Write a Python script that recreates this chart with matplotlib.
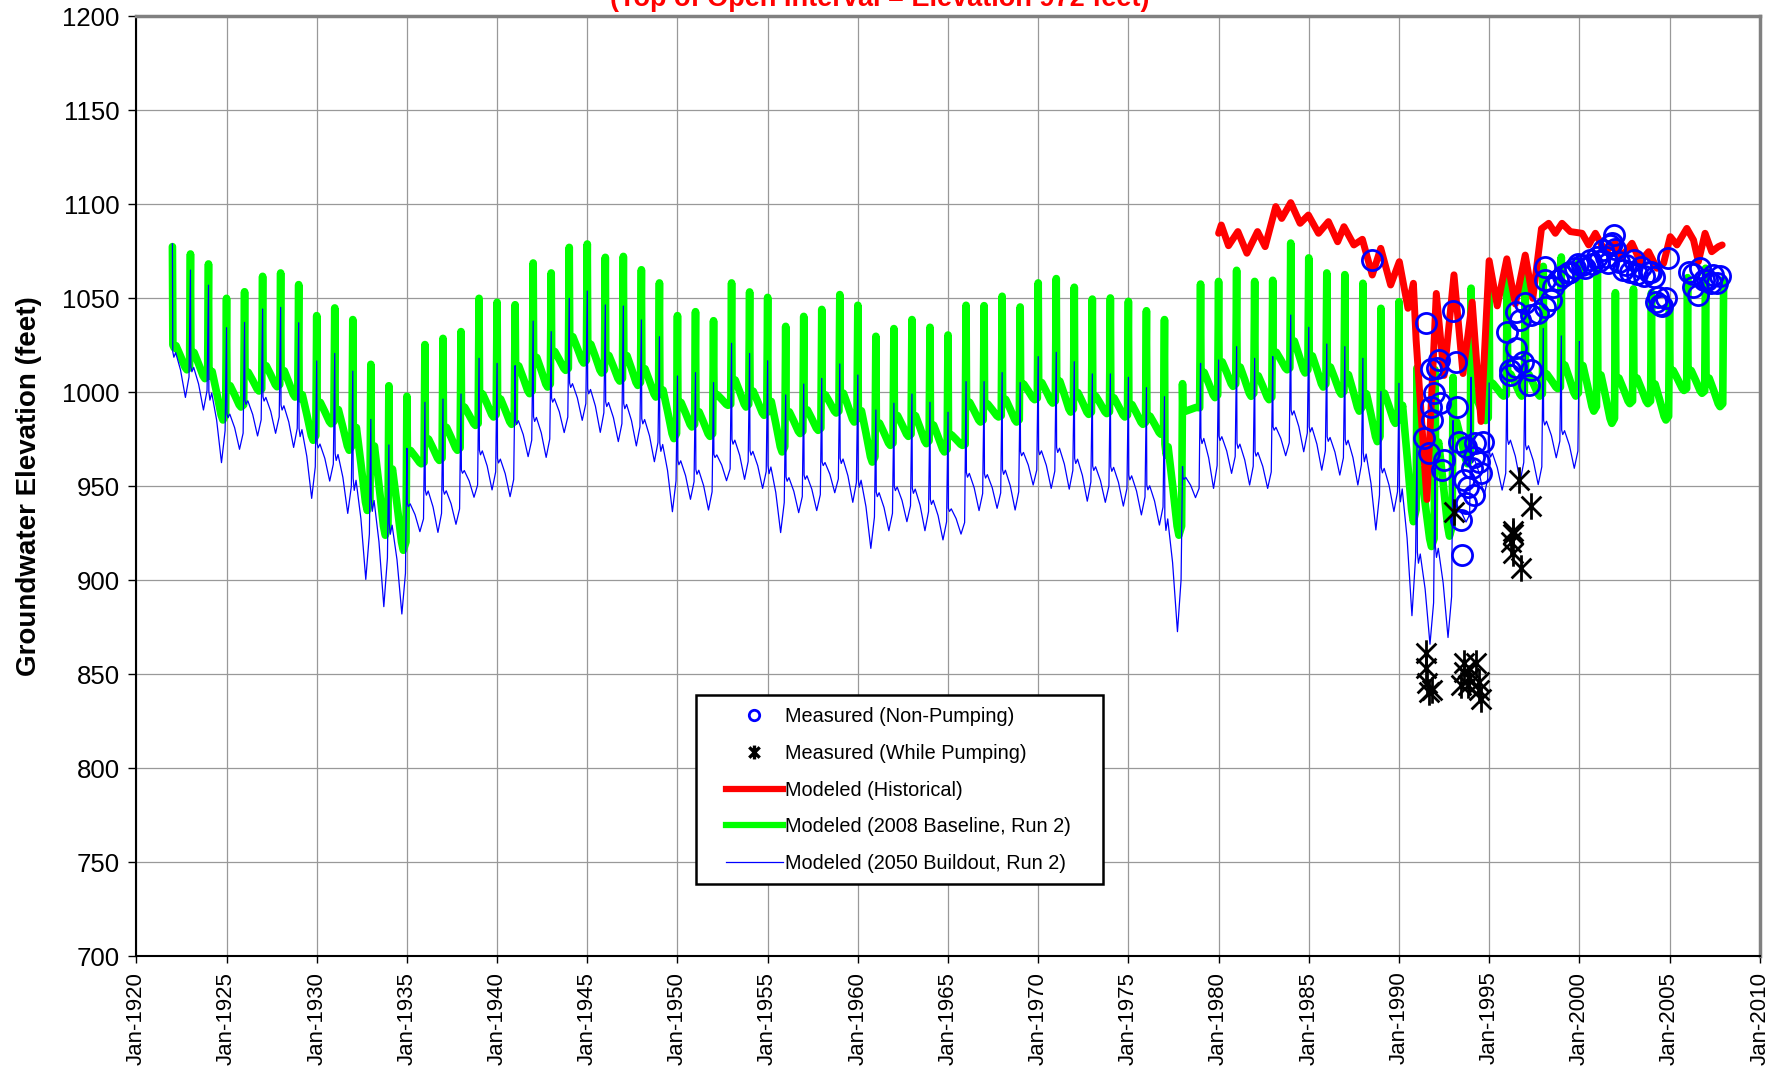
import matplotlib
matplotlib.use("Agg")
import matplotlib.pyplot as plt
from matplotlib.lines import Line2D
from matplotlib.patches import Rectangle
from matplotlib.path import Path

plt.rcParams['font.family'] = ['Liberation Sans', 'DejaVu Sans']

# ---- data ----
title = "(Top of Open Interval = Elevation 972 feet)"
legend_labels = ["Measured (Non-Pumping)", "Measured (While Pumping)",
                 "Modeled (Historical)", "Modeled (2008 Baseline, Run 2)",
                 "Modeled (2050 Buildout, Run 2)"]
xtick_years = list(range(1920, 2011, 5))
xtick_labels = ["Jan-%d" % y for y in xtick_years]
yticks = list(range(700, 1201, 50))

# 2008 baseline: one winter spike per year, level just after spike, seasonal low
green_years = list(range(1922, 2008))
green_peak = [1077.5, 1073.6, 1068.3, 1050, 1053.5, 1061.7, 1063.5, 1057.3, 1040.8, 1044.9,
              1038.7, 1014.9, 1003.5, 997.9, 1025.4, 1028.7, 1032.3, 1050, 1047.9, 1046.6,
              1068.8, 1063.5, 1077.1, 1078.9, 1071.8, 1072.3, 1065.2, 1058.2, 1040.8, 1042.9,
              1038.1, 1058.2, 1053.4, 1050.5, 1035.1, 1040.4, 1044.1, 1052, 1046.3, 1029.8,
              1033.9, 1038.7, 1034.6, 1030.5, 1046.3, 1046.1, 1051.1, 1045.4, 1058.2, 1060.5,
              1055.9, 1049.6, 1050.2, 1048.4, 1043.4, 1038.7, 1004.6, 1057.6, 1059, 1064.9,
              1059, 1059.6, 1079.4, 1071.5, 1063.5, 1062.6, 1058, 1044.7, 1048.2, 1013,
              1012, 1008, 1055.4, 1052.7, 1063, 1063, 1067, 1072, 1070, 1065,
              1053, 1055, 1053, 1046, 1061, 1066]
green_post = [1025.2, 1021.6, 1011.9, 1003.9, 1011, 1014.5, 1011.9, 999.5, 995, 991.5,
              982.6, 972.9, 960.5, 969.3, 975.5, 981.7, 992.4, 999.5, 996.8, 1014.5,
              1019, 1022, 1030, 1026, 1020, 1020, 1013, 1002, 995, 990,
              999, 1007, 1001, 996, 990, 991, 999, 1000, 991, 984,
              988, 988, 983, 977.5, 995, 994, 996.6, 1004.6, 1005.5, 1006.4,
              1000.2, 998.2, 997.4, 993.8, 987.6, 972.5, 990, 1011, 1016.6, 1013.9,
              1009.2, 1021.6, 1027.8, 1019.9, 1013.9, 1010, 1000, 1000, 995, 960,
              975, 985, 1000, 1005, 1010, 1010, 1010, 1015, 1015, 1010,
              1008, 1008, 1005, 1012, 1012, 1008]
green_low = [1012, 1007.3, 985.3, 992.2, 1000.7, 1003, 997.5, 974.5, 983.3, 969.2,
             937.2, 924, 916, 962, 963.8, 969.2, 982.4, 986.9, 983, 999.3,
             1002.8, 1011.7, 1015.6, 1010.3, 1006, 1003.7, 997.5, 975.4, 981.6, 976.6,
             993.1, 992.2, 987.8, 968.3, 978.1, 979.8, 989, 984.2, 962.9, 971.8,
             976.6, 972.7, 968.3, 971.8, 984.2, 986.9, 984.2, 996.1, 994.3, 989.5,
             988.3, 988.7, 986.9, 983, 977.7, 924, 992, 997.2, 1003.2, 997.9,
             996.1, 1012, 1010.3, 1002.8, 999, 990, 973.8, 983.5, 931.2, 918,
             923.5, 962, 985, 998, 998, 998, 1002, 998, 990, 983.5,
             994, 994, 985.3, 1001, 999.5, 992.4]
green_end = (2008.0, 1060)

# 2050 buildout (ends Jan-2000)
blue_years = list(range(1922, 2000))
blue_peak = [1079, 1065, 1057, 1034.4, 1037.2, 1044.3, 1045.2, 1037, 1016.7, 1020.7,
             1011.3, 985.6, 972, 970.2, 994.7, 996.4, 999.1, 1018.1, 1015.4, 1014.2,
             1037.9, 1032.3, 1050, 1053.9, 1046.5, 1045.9, 1038.5, 1029.6, 1008.7, 1010.5,
             1005.2, 1026.1, 1020.7, 1016.8, 998.6, 1004.4, 1007.4, 1015.1, 1009.2, 990.6,
             994.2, 999.1, 994.7, 989.4, 1005.7, 1005.7, 1010.5, 1005.2, 1019, 1021.3,
             1016.3, 1009.8, 1009.8, 1008, 1002.5, 997.7, 960.5, 1015.4, 1017.2, 1024.3,
             1018.1, 1019, 1041.1, 1034.6, 1025.7, 1024.3, 1018.1, 1000.4, 1004.8, 972.9,
             960, 985, 1008, 1005, 1021, 1020, 1034, 1030]
blue_post = [1021.6, 1013.7, 1000.4, 988.8, 995.9, 997.7, 993.3, 980.9, 972.9, 967.6,
             954.3, 943.6, 930.3, 941, 948, 948, 958.7, 969.3, 964.9, 985.3,
             987.1, 997, 1005, 1002, 995, 994, 986, 973, 964, 959,
             967, 975, 969, 961, 955, 956, 963, 965, 954, 947,
             950, 949, 943, 938.3, 957.3, 956.6, 959, 968.4, 969.3, 970.7,
             964.9, 960.8, 960.5, 956, 950.7, 933.9, 955, 976, 976.8, 972.9,
             968.4, 981.7, 990.6, 981.7, 976.4, 975, 968, 960, 950, 915,
             918, 940, 965, 968, 975, 972, 985, 980]
blue_low = [997.3, 990.6, 962.6, 969.7, 976.8, 978.2, 970.7, 943.6, 952.8, 935.6,
            900.5, 886, 882.1, 925.9, 925.5, 929.8, 944.2, 948.1, 944.5, 965.8,
            965.4, 978.6, 985.1, 978.7, 973.8, 971.5, 963.1, 936.5, 943.1, 937.4,
            953, 953.7, 948.9, 925.4, 936, 937.1, 946.6, 941.5, 917, 926.4,
            931.2, 926.4, 921.5, 924.6, 937.1, 938.3, 937.4, 950.7, 948.9, 948.5,
            942.1, 941.5, 939.5, 934.8, 929.4, 872.7, 944, 948.9, 956.9, 950.7,
            948.9, 966.3, 968.4, 958.6, 956, 950.7, 926.8, 936.6, 881.2, 866,
            869.6, 931, 945, 948, 952.7, 950.9, 965.2, 959.6]
blue_end = (2000.0, 1027)

# modeled historical
red_t = [1980.0, 1980.15, 1980.55, 1981.07, 1981.57, 1982.16, 1982.58, 1983.17, 1983.5, 1984.0,
         1984.52, 1984.98, 1985.54, 1986.09, 1986.6, 1986.95, 1987.5, 1987.97, 1988.52, 1988.99,
         1989.54, 1990.02, 1990.5, 1990.8, 1990.95, 1991.55, 1992.07, 1992.5, 1993.05, 1993.55,
         1994.06, 1994.55, 1995.0, 1995.45, 1995.98, 1996.45, 1997.0, 1997.42, 1997.9, 1998.3,
         1998.67, 1999.04, 1999.5, 2000.15, 2000.52, 2000.89, 2001.44, 2001.99, 2002.36, 2002.92,
         2003.38, 2003.84, 2004.3, 2004.67, 2005.04, 2005.41, 2005.96, 2006.33, 2006.6, 2006.97,
         2007.34, 2007.71, 2007.92]
red_v = [1084.6, 1089, 1078, 1085.5, 1074, 1085.5, 1077.5, 1098.8, 1092.5, 1100.9,
         1089.9, 1094.3, 1084.6, 1090.8, 1080.1, 1088.1, 1078.4, 1081.4, 1062.4, 1076.6,
         1057.1, 1069.5, 1044.7, 1058, 1028, 943, 1052.6, 1009, 1062.5, 1010,
         1048, 984.5, 1070, 1046, 1071, 1047, 1073, 1050, 1087, 1089.9,
         1084.6, 1089.9, 1085.5, 1084.6, 1078.4, 1084.6, 1074.8, 1079.3, 1072.2, 1079.3,
         1069.5, 1074.8, 1066, 1068.6, 1082.8, 1078.4, 1087.2, 1081, 1069.5, 1084.6,
         1074.8, 1077.5, 1078.4]

# measured, non-pumping
circ_t = [1988.49, 1991.49, 1992.98, 1991.76, 1992.1, 1992.2, 1993.16, 1991.96, 1991.8, 1992.3,
          1993.22, 1991.84, 1991.39, 1991.69, 1992.51, 1992.41, 1993.33, 1993.73, 1994.24, 1994.65,
          1994.14, 1994.04, 1994.55, 1993.63, 1993.84, 1994.14, 1993.73, 1993.43, 1993.47, 1994.45,
          1995.98, 1996.49, 1997.0, 1996.69, 1997.31, 1997.71, 1998.12, 1998.43, 1996.18, 1996.49,
          1996.9, 1997.31, 1997.2, 1996.49, 1996.18, 1998.12, 1998.12, 1998.53, 1998.84, 1999.35,
          1999.76, 2000.16, 2000.57, 2000.98, 2001.29, 2001.69, 2001.9, 2001.8, 2001.59, 2002.2,
          2002.61, 2003.02, 2003.43, 2003.84, 2004.14, 2004.35, 2004.45, 2004.24, 2004.9, 2006.08,
          2006.29, 2006.59, 2006.69, 2007.1, 2007.41, 2007.61, 1999.1, 1999.5, 1999.9, 2000.3,
          2000.7, 2001.1, 2001.5, 2002.0, 2002.4, 2002.8, 2003.2, 2003.6, 2004.0, 2004.6,
          2004.8, 2006.3, 2006.9, 2007.3, 2007.8]
circ_v = [1070.4, 1037.1, 1043.3, 1012.2, 1012.8, 1017.2, 1016.3, 999.8, 992.4, 994.2,
          992.4, 985.3, 975.5, 967.6, 964, 958.7, 973.8, 971.1, 972.9, 973.8,
          965.8, 959.6, 956.9, 953.4, 949.8, 945.4, 941, 932.1, 913.5, 963.1,
          1032.3, 1042.9, 1047.3, 1038.5, 1041.2, 1042, 1045.6, 1049.1, 1011.9, 1013.7,
          1016.3, 1011.9, 1003.9, 1023.4, 1009.2, 1066.8, 1059.8, 1056.2, 1059.8, 1063.3,
          1066, 1067.7, 1070.4, 1072.2, 1075.7, 1078.4, 1083.7, 1079.3, 1068.6, 1069.5,
          1067.7, 1070.4, 1066.8, 1064.2, 1061.5, 1050.9, 1046.5, 1048.2, 1071.3, 1064.2,
          1056.2, 1051.8, 1066, 1059.8, 1062.4, 1058, 1062, 1064, 1068, 1066,
          1068, 1070, 1072, 1076, 1065, 1064, 1063, 1062, 1064, 1046,
          1050, 1063, 1060, 1058, 1062]

# measured, while pumping
star_t = [1991.48, 1991.48, 1991.57, 1991.67, 1991.85, 1993.61, 1993.61, 1994.26, 1993.8, 1993.89,
          1994.44, 1994.44, 1994.54, 1993.43, 1993.06, 1996.63, 1997.31, 1996.3, 1996.2, 1996.3,
          1996.76, 1996.35]
star_v = [861.3, 853.2, 845.2, 840.7, 841.6, 855.9, 851.4, 855.9, 844.3, 847.9,
          846.1, 841.6, 837.1, 844.3, 936.3, 953.2, 939.3, 924.6, 920.2, 914.8,
          906.8, 926.4]

# within-year shape (fraction of the year, share of post-to-low drop remaining)
G_PHASE = [0.025, 0.10, 0.20, 0.45, 0.70, 0.80, 0.95]
G_SHARE = [1.0, 0.88, 0.97, 0.55, 0.10, 0.0, 0.10]
B_PHASE = [0.02, 0.08, 0.18, 0.45, 0.72, 0.92]
B_SHARE = [1.0, 0.88, 0.98, 0.60, 0.0, 0.45]


def build_series(years, peak, post, low, end, phase, share):
    t, v = [], []
    for y, pk, ps, lo in zip(years, peak, post, low):
        t.append(y)
        v.append(pk)
        for ph, sh in zip(phase, share):
            t.append(y + ph)
            v.append(lo + sh * (ps - lo))
    t.append(end[0])
    v.append(end[1])
    return t, v


gt, gv = build_series(green_years, green_peak, green_post, green_low, green_end, G_PHASE, G_SHARE)
bt, bv = build_series(blue_years, blue_peak, blue_post, blue_low, blue_end, B_PHASE, B_SHARE)

fig = plt.figure(figsize=(17.8, 10.67), dpi=100)
ax = fig.add_axes([0.0766, 0.1037, 0.912, 0.881])

ax.plot(gt, gv, color='#00FF00', lw=5.5, solid_joinstyle='round', solid_capstyle='round', zorder=2)
ax.plot(bt, bv, color='#0000FF', lw=0.9, zorder=3)
ax.plot(red_t, red_v, color='#FF0000', lw=5.0, solid_joinstyle='round', solid_capstyle='round', zorder=3.5)
ax.plot(circ_t, circ_v, ls='none', marker='o', ms=14.5, mfc='none', mec='#0000FF', mew=2.0, zorder=4)

star_path = Path([(0, -1), (0, 1), (-0.75, -0.75), (0.75, 0.75), (-0.75, 0.75), (0.75, -0.75)],
                 [Path.MOVETO, Path.LINETO, Path.MOVETO, Path.LINETO, Path.MOVETO, Path.LINETO])
ax.plot(star_t, star_v, ls='none', marker=star_path, ms=19, mfc='none', mec='black', mew=2.0, zorder=4.2)

ax.set_xlim(1920, 2010)
ax.set_ylim(700, 1200)
ax.set_xticks(xtick_years)
ax.set_xticklabels(xtick_labels, rotation=90, fontsize=16)
ax.set_yticks(yticks)
ax.set_yticklabels([str(y) for y in yticks], fontsize=18.5)
ax.tick_params(axis='x', length=5, width=1, pad=6, direction='out')
ax.tick_params(axis='y', length=6, width=1, pad=6, direction='out')
ax.grid(True, color='#999999', lw=0.9, zorder=0)
ax.set_axisbelow(True)

for side in ('left', 'bottom'):
    ax.spines[side].set_color('black')
    ax.spines[side].set_linewidth(1.5)
for side in ('top', 'right'):
    ax.spines[side].set_color('#808080')
    ax.spines[side].set_linewidth(2.5)

ax.set_ylabel("Groundwater Elevation (feet)", fontsize=20, fontweight='bold')
ax.yaxis.set_label_coords(-0.058, 0.5)

fig.text(0.494, 1 - 6 / 1067, title, color='#FF0000', fontsize=19.5, fontweight='bold',
         ha='center', va='baseline')

# legend: white box drawn separately, entries on top
ax.add_patch(Rectangle((0.3447, 0.0769), 0.2507, 0.2011, transform=ax.transAxes,
                       facecolor='white', edgecolor='black', lw=1.8, zorder=6))
handles = [
    Line2D([], [], ls='none', marker='o', ms=7.5, mfc='none', mec='#0000FF', mew=2.0),
    Line2D([], [], ls='none', marker=star_path, ms=10, mfc='none', mec='black', mew=2.4),
    Line2D([], [], color='#FF0000', lw=4.5),
    Line2D([], [], color='#00FF00', lw=4.5),
    Line2D([], [], color='#0000FF', lw=0.9),
]
leg = ax.legend(handles, legend_labels, loc='upper left', bbox_to_anchor=(0.3632, 0.2655),
                frameon=False, fontsize=14.3, handlelength=2.85, handletextpad=0.1,
                borderpad=0, borderaxespad=0, labelspacing=0.9)
leg.set_zorder(7)

fig.savefig("out.png", dpi=100)
